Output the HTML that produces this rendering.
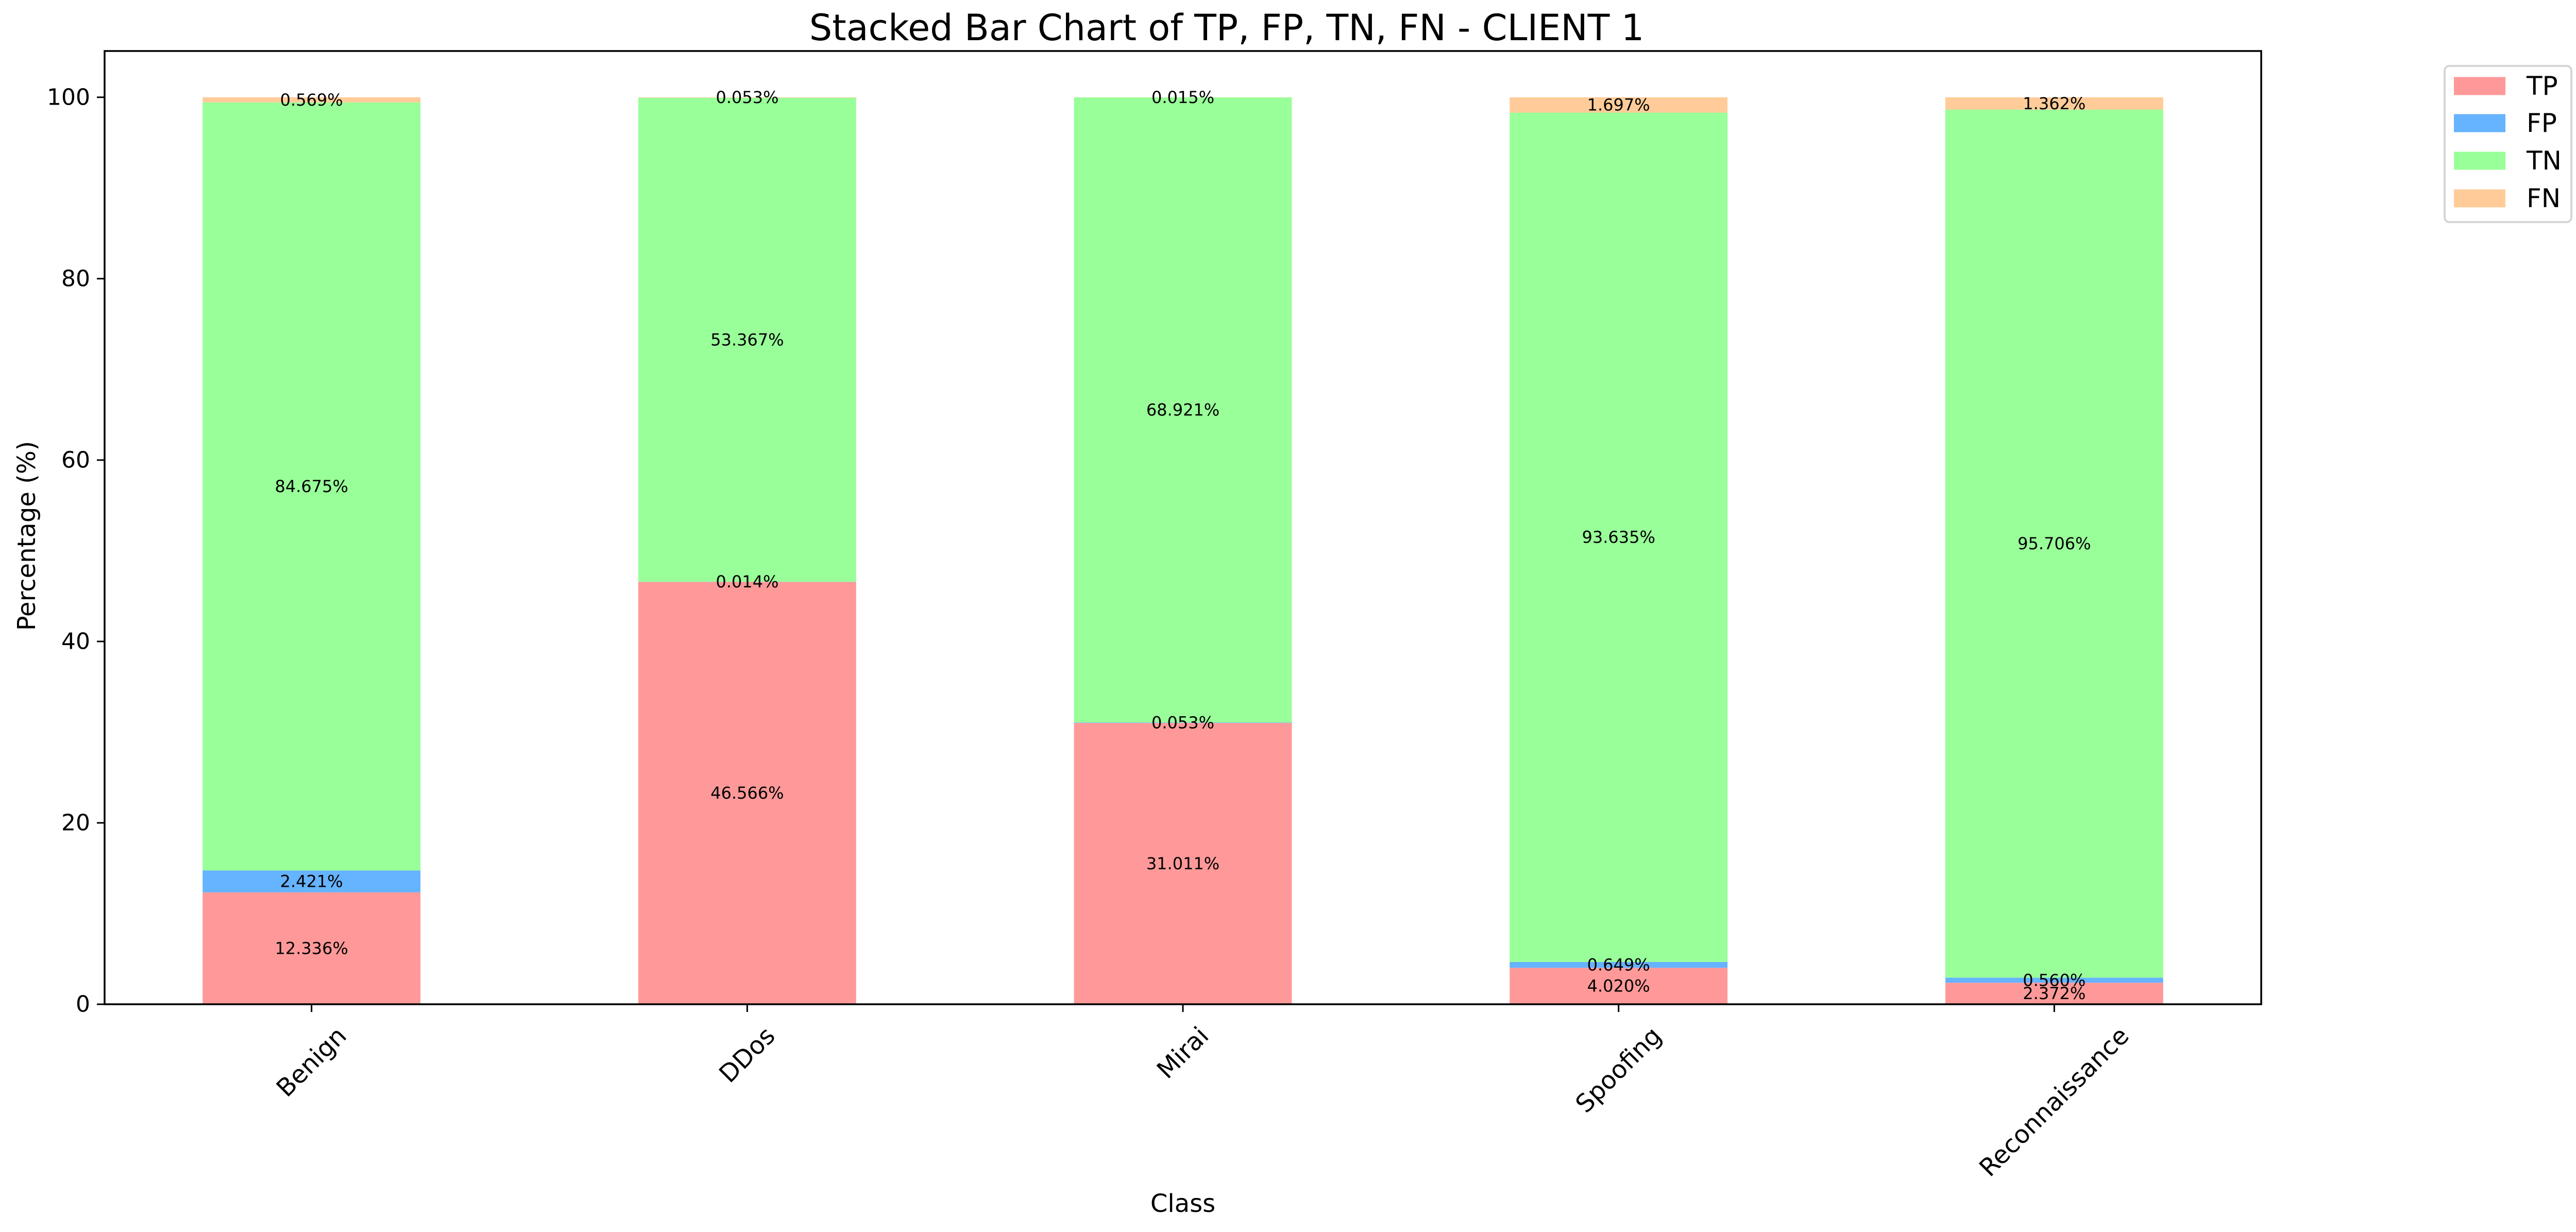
<!DOCTYPE html>
<html><head><meta charset="utf-8"><style>
html,body{margin:0;padding:0;background:#fff}
svg{display:block;font-family:"DejaVu Sans","Liberation Sans",sans-serif}
</style></head><body>
<svg id="chart" width="5021" height="2391" viewBox="0 0 5021 2391" xmlns="http://www.w3.org/2000/svg">
<rect width="5021" height="2391" fill="#fff"/>
<g id="bars"></g>
<g id="labels"></g>
<g id="axes"></g>
<text x="2381" y="78" font-size="70" text-anchor="middle">Stacked Bar Chart of TP, FP, TN, FN - CLIENT 1</text>
<text x="2296" y="2352" font-size="48" text-anchor="middle">Class</text>
<text transform="translate(68,1040) rotate(-90)" font-size="48" text-anchor="middle">Percentage (%)</text>
<g id="legend">
<rect x="4745" y="128" width="246" height="303" rx="9" fill="#fff" stroke="#d6d6d6" stroke-width="4"/>
</g>
</svg>
<script>
const categories = ["Benign","DDos","Mirai","Spoofing","Reconnaissance"];
const seriesNames = ["TP","FP","TN","FN"];
const tpValues = [12.336, 46.566, 31.011, 4.020, 2.372];
const fpValues = [2.421, 0.014, 0.053, 0.649, 0.560];
const tnValues = [84.675, 53.367, 68.921, 93.635, 95.706];
const fnValues = [0.569, 0.053, 0.015, 1.697, 1.362];
const yTicks = [0, 20, 40, 60, 80, 100];

const NS = "http://www.w3.org/2000/svg";
const colors = ["#ff9999","#66b3ff","#99ff99","#ffcc99"];
const series = [tpValues, fpValues, tnValues, fnValues];
const L = 203, R = 4389, T = 99, B = 1949;
const xmin = -0.475, xmax = categories.length - 0.525, ymax = 105.1;
function xs(v){ return L + (v - xmin) / (xmax - xmin) * (R - L); }
function ys(v){ return B - v / ymax * (B - T); }
const unit = (R - L) / (xmax - xmin);
const bw = 0.5 * unit;
function mk(tag, attrs, parent){ const e = document.createElementNS(NS, tag); for (const k in attrs) e.setAttribute(k, attrs[k]); parent.appendChild(e); return e; }

const gb = document.getElementById('bars'), gl = document.getElementById('labels'), ga = document.getElementById('axes');
categories.forEach((c, i) => {
  let base = 0;
  series.forEach((s, j) => {
    const v = s[i];
    const r = mk('rect', {x: xs(i) - bw/2, y: ys(base + v), width: bw, height: ys(base) - ys(base + v), fill: colors[j]}, gb);
    
    
    const t = mk('text', {x: xs(i), y: ys(base + v/2), 'font-size': 32, 'text-anchor': 'middle', 'dominant-baseline': 'central'}, gl);
    t.textContent = v.toFixed(3) + '%';
    
    
    base += v;
  });
});
const fr = mk('rect', {x: L, y: T, width: R - L, height: B - T, fill: 'none', stroke: '#000', 'stroke-width': 3.5}, ga);


yTicks.forEach(v => {
  const ln = mk('line', {x1: L - 15, x2: L, y1: ys(v), y2: ys(v), stroke: '#000', 'stroke-width': 3}, ga);
  
  
  const t = mk('text', {x: L - 28, y: ys(v), 'font-size': 44, 'text-anchor': 'end', 'dominant-baseline': 'central'}, ga);
  t.textContent = String(v);
  
  
});
categories.forEach((c, i) => {
  const x = xs(i);
  const ln = mk('line', {x1: x, x2: x, y1: B, y2: B + 15, stroke: '#000', 'stroke-width': 3}, ga);
  
  
  const t = mk('text', {'font-size': 48, 'text-anchor': 'middle', 'dominant-baseline': 'central'}, ga);
  t.textContent = c;
  
  
  const w = t.getComputedTextLength(), h = 48;
  const bh = (w + h) * Math.SQRT1_2;
  const cy = 1985 + bh / 2;
  t.setAttribute('transform', 'translate(' + x + ',' + cy + ') rotate(-45)');
});
const lg = document.getElementById('legend');
const rowsY = [167, 239, 312, 385];
seriesNames.forEach((n, j) => {
  const r = mk('rect', {x: 4763, y: rowsY[j] - 17.5, width: 100, height: 35, fill: colors[j]}, lg);
  
  
  const t = mk('text', {x: 4904, y: rowsY[j], 'font-size': 50, 'dominant-baseline': 'central'}, lg);
  t.textContent = n;
  
  
});
</script>
</body></html>
